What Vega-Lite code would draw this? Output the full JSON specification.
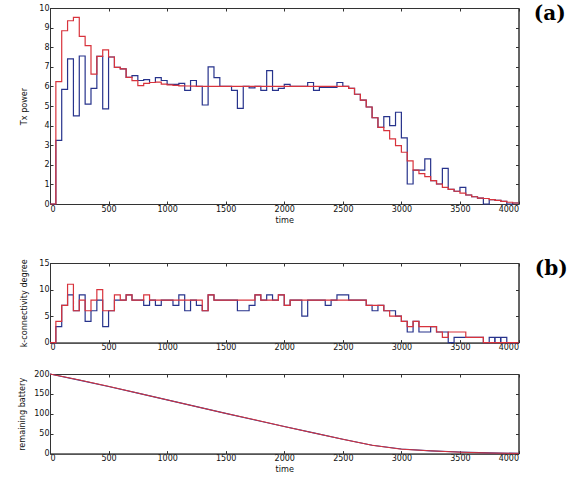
{
"$schema":"https://vega.github.io/schema/vega-lite/v6.json",
"background":"white",
"padding":{"left":17,"top":3,"right":0,"bottom":0},
"bounds":"flush",
"spacing":59,
"config":{
 "view":{"stroke":"#333","strokeWidth":1},
 "axis":{"grid":false,"labelFont":"DejaVu Sans","labelFontSize":8,"labelColor":"#111","titleFont":"'Liberation Sans Narrow', 'DejaVu Sans Condensed', 'Liberation Sans', sans-serif","titleFontSize":9,"titleFontWeight":"normal","titleColor":"#111","domainColor":"#333","tickColor":"#333","tickSize":-3,"labelPadding":4,"titlePadding":4},
 "title":{"font":"DejaVu Serif","fontSize":20,"fontWeight":"bold","color":"#000"},
 "line":{"strokeWidth":1.2}
},
"datasets":{
"tx":[
{"t":0,"v":0,"s":"blue"},{"t":50,"v":3.25,"s":"blue"},{"t":100,"v":5.85,"s":"blue"},{"t":150,"v":7.4,"s":"blue"},{"t":200,"v":4.5,"s":"blue"},{"t":250,"v":7.55,"s":"blue"},{"t":300,"v":5.1,"s":"blue"},{"t":350,"v":5.9,"s":"blue"},{"t":400,"v":7.53,"s":"blue"},{"t":450,"v":4.85,"s":"blue"},{"t":500,"v":7.5,"s":"blue"},{"t":550,"v":6.97,"s":"blue"},{"t":600,"v":6.89,"s":"blue"},{"t":650,"v":6.46,"s":"blue"},{"t":700,"v":6.55,"s":"blue"},{"t":750,"v":6.3,"s":"blue"},{"t":800,"v":6.35,"s":"blue"},{"t":850,"v":6.2,"s":"blue"},{"t":900,"v":6.45,"s":"blue"},{"t":950,"v":6.3,"s":"blue"},{"t":1000,"v":6.1,"s":"blue"},{"t":1050,"v":6.1,"s":"blue"},{"t":1100,"v":6.15,"s":"blue"},{"t":1150,"v":5.8,"s":"blue"},{"t":1200,"v":6.3,"s":"blue"},{"t":1250,"v":6.0,"s":"blue"},{"t":1300,"v":5.05,"s":"blue"},{"t":1350,"v":7.0,"s":"blue"},{"t":1400,"v":6.45,"s":"blue"},{"t":1450,"v":6.0,"s":"blue"},{"t":1500,"v":6.0,"s":"blue"},{"t":1550,"v":5.8,"s":"blue"},{"t":1600,"v":4.88,"s":"blue"},{"t":1650,"v":6.0,"s":"blue"},{"t":1700,"v":5.92,"s":"blue"},{"t":1750,"v":6.0,"s":"blue"},{"t":1800,"v":5.8,"s":"blue"},{"t":1850,"v":6.8,"s":"blue"},{"t":1900,"v":5.8,"s":"blue"},{"t":1950,"v":5.9,"s":"blue"},{"t":2000,"v":6.1,"s":"blue"},{"t":2050,"v":6.0,"s":"blue"},{"t":2100,"v":6.0,"s":"blue"},{"t":2150,"v":6.0,"s":"blue"},{"t":2200,"v":6.2,"s":"blue"},{"t":2250,"v":5.8,"s":"blue"},{"t":2300,"v":5.95,"s":"blue"},{"t":2350,"v":5.95,"s":"blue"},{"t":2400,"v":5.95,"s":"blue"},{"t":2450,"v":6.2,"s":"blue"},{"t":2500,"v":6.0,"s":"blue"},{"t":2550,"v":5.9,"s":"blue"},{"t":2600,"v":5.6,"s":"blue"},{"t":2650,"v":5.3,"s":"blue"},{"t":2700,"v":4.95,"s":"blue"},{"t":2750,"v":4.4,"s":"blue"},{"t":2800,"v":3.91,"s":"blue"},{"t":2850,"v":4.46,"s":"blue"},{"t":2900,"v":4.0,"s":"blue"},{"t":2950,"v":4.68,"s":"blue"},{"t":3000,"v":3.37,"s":"blue"},{"t":3050,"v":1.02,"s":"blue"},{"t":3100,"v":1.73,"s":"blue"},{"t":3150,"v":1.73,"s":"blue"},{"t":3200,"v":2.3,"s":"blue"},{"t":3250,"v":1.19,"s":"blue"},{"t":3300,"v":1.02,"s":"blue"},{"t":3350,"v":1.82,"s":"blue"},{"t":3400,"v":0.75,"s":"blue"},{"t":3450,"v":0.65,"s":"blue"},{"t":3500,"v":0.85,"s":"blue"},{"t":3550,"v":0.46,"s":"blue"},{"t":3600,"v":0.37,"s":"blue"},{"t":3650,"v":0.3,"s":"blue"},{"t":3700,"v":0.0,"s":"blue"},{"t":3750,"v":0.22,"s":"blue"},{"t":3800,"v":0.18,"s":"blue"},{"t":3850,"v":0.13,"s":"blue"},{"t":3900,"v":0.0,"s":"blue"},{"t":3950,"v":0.05,"s":"blue"},{"t":4000,"v":0.05,"s":"blue"},
{"t":0,"v":0,"s":"red"},{"t":50,"v":6.24,"s":"red"},{"t":100,"v":8.84,"s":"red"},{"t":150,"v":9.35,"s":"red"},{"t":200,"v":9.52,"s":"red"},{"t":250,"v":8.55,"s":"red"},{"t":300,"v":8.08,"s":"red"},{"t":350,"v":6.63,"s":"red"},{"t":400,"v":7.53,"s":"red"},{"t":450,"v":7.86,"s":"red"},{"t":500,"v":7.5,"s":"red"},{"t":550,"v":6.97,"s":"red"},{"t":600,"v":6.89,"s":"red"},{"t":650,"v":6.46,"s":"red"},{"t":700,"v":6.29,"s":"red"},{"t":750,"v":6.04,"s":"red"},{"t":800,"v":6.15,"s":"red"},{"t":850,"v":6.2,"s":"red"},{"t":900,"v":6.22,"s":"red"},{"t":950,"v":6.12,"s":"red"},{"t":1000,"v":6.08,"s":"red"},{"t":1050,"v":6.05,"s":"red"},{"t":1100,"v":6.03,"s":"red"},{"t":1150,"v":6.02,"s":"red"},{"t":1200,"v":6.01,"s":"red"},{"t":1250,"v":6.0,"s":"red"},{"t":1300,"v":6.0,"s":"red"},{"t":1350,"v":6.0,"s":"red"},{"t":1400,"v":6.0,"s":"red"},{"t":1450,"v":6.0,"s":"red"},{"t":1500,"v":6.0,"s":"red"},{"t":1550,"v":6.0,"s":"red"},{"t":1600,"v":6.0,"s":"red"},{"t":1650,"v":6.0,"s":"red"},{"t":1700,"v":6.0,"s":"red"},{"t":1750,"v":6.0,"s":"red"},{"t":1800,"v":6.0,"s":"red"},{"t":1850,"v":6.0,"s":"red"},{"t":1900,"v":6.0,"s":"red"},{"t":1950,"v":6.0,"s":"red"},{"t":2000,"v":6.0,"s":"red"},{"t":2050,"v":6.0,"s":"red"},{"t":2100,"v":6.0,"s":"red"},{"t":2150,"v":6.0,"s":"red"},{"t":2200,"v":6.0,"s":"red"},{"t":2250,"v":6.0,"s":"red"},{"t":2300,"v":6.0,"s":"red"},{"t":2350,"v":6.0,"s":"red"},{"t":2400,"v":6.0,"s":"red"},{"t":2450,"v":6.0,"s":"red"},{"t":2500,"v":6.0,"s":"red"},{"t":2550,"v":5.9,"s":"red"},{"t":2600,"v":5.6,"s":"red"},{"t":2650,"v":5.3,"s":"red"},{"t":2700,"v":4.95,"s":"red"},{"t":2750,"v":4.4,"s":"red"},{"t":2800,"v":3.91,"s":"red"},{"t":2850,"v":3.74,"s":"red"},{"t":2900,"v":3.32,"s":"red"},{"t":2950,"v":2.98,"s":"red"},{"t":3000,"v":2.64,"s":"red"},{"t":3050,"v":2.2,"s":"red"},{"t":3100,"v":1.73,"s":"red"},{"t":3150,"v":1.55,"s":"red"},{"t":3200,"v":1.4,"s":"red"},{"t":3250,"v":1.19,"s":"red"},{"t":3300,"v":1.02,"s":"red"},{"t":3350,"v":0.85,"s":"red"},{"t":3400,"v":0.75,"s":"red"},{"t":3450,"v":0.65,"s":"red"},{"t":3500,"v":0.55,"s":"red"},{"t":3550,"v":0.46,"s":"red"},{"t":3600,"v":0.37,"s":"red"},{"t":3650,"v":0.3,"s":"red"},{"t":3700,"v":0.28,"s":"red"},{"t":3750,"v":0.22,"s":"red"},{"t":3800,"v":0.18,"s":"red"},{"t":3850,"v":0.13,"s":"red"},{"t":3900,"v":0.09,"s":"red"},{"t":3950,"v":0.05,"s":"red"},{"t":4000,"v":0.05,"s":"red"}
],
"k":[
{"t":0,"v":0,"s":"blue"},{"t":50,"v":3,"s":"blue"},{"t":100,"v":7,"s":"blue"},{"t":150,"v":9,"s":"blue"},{"t":200,"v":6,"s":"blue"},{"t":250,"v":9,"s":"blue"},{"t":300,"v":4,"s":"blue"},{"t":350,"v":6,"s":"blue"},{"t":400,"v":8,"s":"blue"},{"t":450,"v":3,"s":"blue"},{"t":500,"v":6,"s":"blue"},{"t":550,"v":8,"s":"blue"},{"t":600,"v":8,"s":"blue"},{"t":650,"v":9,"s":"blue"},{"t":700,"v":8,"s":"blue"},{"t":750,"v":8,"s":"blue"},{"t":800,"v":7,"s":"blue"},{"t":850,"v":8,"s":"blue"},{"t":900,"v":7,"s":"blue"},{"t":950,"v":8,"s":"blue"},{"t":1000,"v":8,"s":"blue"},{"t":1050,"v":7,"s":"blue"},{"t":1100,"v":9,"s":"blue"},{"t":1150,"v":6,"s":"blue"},{"t":1200,"v":8,"s":"blue"},{"t":1250,"v":7,"s":"blue"},{"t":1300,"v":6,"s":"blue"},{"t":1350,"v":9,"s":"blue"},{"t":1400,"v":8,"s":"blue"},{"t":1450,"v":8,"s":"blue"},{"t":1500,"v":8,"s":"blue"},{"t":1550,"v":8,"s":"blue"},{"t":1600,"v":6,"s":"blue"},{"t":1650,"v":6,"s":"blue"},{"t":1700,"v":7,"s":"blue"},{"t":1750,"v":9,"s":"blue"},{"t":1800,"v":8,"s":"blue"},{"t":1850,"v":9,"s":"blue"},{"t":1900,"v":8,"s":"blue"},{"t":1950,"v":9,"s":"blue"},{"t":2000,"v":7,"s":"blue"},{"t":2050,"v":8,"s":"blue"},{"t":2100,"v":8,"s":"blue"},{"t":2150,"v":5,"s":"blue"},{"t":2200,"v":8,"s":"blue"},{"t":2250,"v":8,"s":"blue"},{"t":2300,"v":8,"s":"blue"},{"t":2350,"v":7,"s":"blue"},{"t":2400,"v":8,"s":"blue"},{"t":2450,"v":9,"s":"blue"},{"t":2500,"v":9,"s":"blue"},{"t":2550,"v":8,"s":"blue"},{"t":2600,"v":8,"s":"blue"},{"t":2650,"v":8,"s":"blue"},{"t":2700,"v":7,"s":"blue"},{"t":2750,"v":6,"s":"blue"},{"t":2800,"v":7,"s":"blue"},{"t":2850,"v":6,"s":"blue"},{"t":2900,"v":6,"s":"blue"},{"t":2950,"v":5,"s":"blue"},{"t":3000,"v":4,"s":"blue"},{"t":3050,"v":2,"s":"blue"},{"t":3100,"v":4,"s":"blue"},{"t":3150,"v":2,"s":"blue"},{"t":3200,"v":2,"s":"blue"},{"t":3250,"v":3,"s":"blue"},{"t":3300,"v":2,"s":"blue"},{"t":3350,"v":2,"s":"blue"},{"t":3400,"v":0,"s":"blue"},{"t":3450,"v":1,"s":"blue"},{"t":3500,"v":1,"s":"blue"},{"t":3550,"v":1,"s":"blue"},{"t":3600,"v":1,"s":"blue"},{"t":3650,"v":1,"s":"blue"},{"t":3700,"v":0,"s":"blue"},{"t":3750,"v":1,"s":"blue"},{"t":3797,"v":0,"s":"blue"},{"t":3800,"v":1,"s":"blue"},{"t":3847,"v":0,"s":"blue"},{"t":3850,"v":1,"s":"blue"},{"t":3900,"v":0,"s":"blue"},{"t":3950,"v":0,"s":"blue"},{"t":4000,"v":0,"s":"blue"},
{"t":0,"v":0,"s":"red"},{"t":50,"v":4,"s":"red"},{"t":100,"v":7,"s":"red"},{"t":150,"v":11,"s":"red"},{"t":200,"v":6,"s":"red"},{"t":250,"v":8,"s":"red"},{"t":300,"v":6,"s":"red"},{"t":350,"v":8,"s":"red"},{"t":400,"v":10,"s":"red"},{"t":450,"v":6,"s":"red"},{"t":500,"v":6,"s":"red"},{"t":550,"v":9,"s":"red"},{"t":600,"v":8,"s":"red"},{"t":650,"v":9,"s":"red"},{"t":700,"v":8,"s":"red"},{"t":750,"v":8,"s":"red"},{"t":800,"v":9,"s":"red"},{"t":850,"v":8,"s":"red"},{"t":900,"v":8,"s":"red"},{"t":950,"v":8,"s":"red"},{"t":1000,"v":8,"s":"red"},{"t":1050,"v":8,"s":"red"},{"t":1100,"v":8,"s":"red"},{"t":1150,"v":8,"s":"red"},{"t":1200,"v":8,"s":"red"},{"t":1250,"v":8,"s":"red"},{"t":1300,"v":6,"s":"red"},{"t":1350,"v":9,"s":"red"},{"t":1400,"v":8,"s":"red"},{"t":1450,"v":8,"s":"red"},{"t":1500,"v":8,"s":"red"},{"t":1550,"v":8,"s":"red"},{"t":1600,"v":8,"s":"red"},{"t":1650,"v":8,"s":"red"},{"t":1700,"v":8,"s":"red"},{"t":1750,"v":9,"s":"red"},{"t":1800,"v":8,"s":"red"},{"t":1850,"v":8,"s":"red"},{"t":1900,"v":8,"s":"red"},{"t":1950,"v":9,"s":"red"},{"t":2000,"v":7,"s":"red"},{"t":2050,"v":8,"s":"red"},{"t":2100,"v":8,"s":"red"},{"t":2150,"v":8,"s":"red"},{"t":2200,"v":8,"s":"red"},{"t":2250,"v":8,"s":"red"},{"t":2300,"v":8,"s":"red"},{"t":2350,"v":8,"s":"red"},{"t":2400,"v":8,"s":"red"},{"t":2450,"v":8,"s":"red"},{"t":2500,"v":8,"s":"red"},{"t":2550,"v":8,"s":"red"},{"t":2600,"v":8,"s":"red"},{"t":2650,"v":8,"s":"red"},{"t":2700,"v":7,"s":"red"},{"t":2750,"v":7,"s":"red"},{"t":2800,"v":7,"s":"red"},{"t":2850,"v":6,"s":"red"},{"t":2900,"v":5,"s":"red"},{"t":2950,"v":5,"s":"red"},{"t":3000,"v":4,"s":"red"},{"t":3050,"v":3,"s":"red"},{"t":3100,"v":4,"s":"red"},{"t":3150,"v":3,"s":"red"},{"t":3200,"v":3,"s":"red"},{"t":3250,"v":3,"s":"red"},{"t":3300,"v":2,"s":"red"},{"t":3350,"v":1,"s":"red"},{"t":3400,"v":2,"s":"red"},{"t":3450,"v":2,"s":"red"},{"t":3500,"v":2,"s":"red"},{"t":3550,"v":1,"s":"red"},{"t":3600,"v":1,"s":"red"},{"t":3650,"v":1,"s":"red"},{"t":3700,"v":0,"s":"red"},{"t":3750,"v":0,"s":"red"},{"t":3800,"v":0,"s":"red"},{"t":3850,"v":0,"s":"red"},{"t":3900,"v":0,"s":"red"},{"t":3950,"v":0,"s":"red"},{"t":4000,"v":0,"s":"red"}
],
"bat":[
{"t":0,"v":200,"s":"blue"},{"t":250,"v":184.5,"s":"blue"},{"t":500,"v":168.5,"s":"blue"},{"t":750,"v":152,"s":"blue"},{"t":1000,"v":135,"s":"blue"},{"t":1250,"v":118,"s":"blue"},{"t":1500,"v":101,"s":"blue"},{"t":1750,"v":84.5,"s":"blue"},{"t":2000,"v":68,"s":"blue"},{"t":2250,"v":52,"s":"blue"},{"t":2500,"v":36,"s":"blue"},{"t":2750,"v":21,"s":"blue"},{"t":3000,"v":11.5,"s":"blue"},{"t":3250,"v":7,"s":"blue"},{"t":3500,"v":4,"s":"blue"},{"t":3750,"v":2,"s":"blue"},{"t":4000,"v":0.5,"s":"blue"},
{"t":0,"v":200,"s":"red"},{"t":250,"v":185,"s":"red"},{"t":500,"v":169,"s":"red"},{"t":750,"v":152,"s":"red"},{"t":1000,"v":135,"s":"red"},{"t":1250,"v":118,"s":"red"},{"t":1500,"v":101,"s":"red"},{"t":1750,"v":85,"s":"red"},{"t":2000,"v":68,"s":"red"},{"t":2250,"v":52,"s":"red"},{"t":2500,"v":36,"s":"red"},{"t":2750,"v":21,"s":"red"},{"t":3000,"v":11,"s":"red"},{"t":3250,"v":7,"s":"red"},{"t":3500,"v":3.5,"s":"red"},{"t":3750,"v":1.5,"s":"red"},{"t":4000,"v":0.5,"s":"red"}
]
},
"vconcat":[
{
 "width":468.5,"height":196,
 "title":{"text":"(a)","orient":"right","anchor":"start","angle":0,"align":"left","baseline":"top","offset":-19},
 "data":{"name":"tx"},
 "layer":[
  {"transform":[{"filter":{"field":"s","equal":"blue"}}],
   "mark":{"type":"line","interpolate":"step-after","color":"#27338c"},
   "encoding":{
    "x":{"field":"t","type":"quantitative","scale":{"domain":[0,4000],"nice":false},"axis":{"values":[0,500,1000,1500,2000,2500,3000,3500,4000],"format":"d","title":"time","titlePadding":2}},
    "y":{"field":"v","type":"quantitative","scale":{"domain":[0,10],"nice":false},"axis":{"values":[0,1,2,3,4,5,6,7,8,9,10],"title":"Tx power","titlePadding":10}}
   }},
  {"transform":[{"filter":{"field":"s","equal":"red"}}],
   "mark":{"type":"line","interpolate":"step-after","color":"#d8333c"},
   "encoding":{
    "x":{"field":"t","type":"quantitative","axis":{"orient":"top","labels":false,"title":null,"values":[0,500,1000,1500,2000,2500,3000,3500,4000]}},
    "y":{"field":"v","type":"quantitative","axis":{"orient":"right","labels":false,"title":null,"values":[0,1,2,3,4,5,6,7,8,9,10]}}
   }}
 ],
 "resolve":{"axis":{"x":"independent","y":"independent"}}
},
{
 "bounds":"flush",
 "spacing":31,
 "vconcat":[
 {
  "width":468.5,"height":79.6,
  "title":{"text":"(b)","orient":"right","anchor":"start","angle":0,"align":"left","baseline":"top","offset":-19},
  "data":{"name":"k"},
  "layer":[
   {"transform":[{"filter":{"field":"s","equal":"blue"}}],
    "mark":{"type":"line","interpolate":"step-after","color":"#27338c"},
    "encoding":{
     "x":{"field":"t","type":"quantitative","scale":{"domain":[0,4000],"nice":false},"axis":{"values":[0,500,1000,1500,2000,2500,3000,3500,4000],"format":"d","title":null}},
     "y":{"field":"v","type":"quantitative","scale":{"domain":[0,15],"nice":false},"axis":{"values":[0,5,10,15],"title":"k-connectivity degree","titlePadding":10}}
    }},
   {"transform":[{"filter":{"field":"s","equal":"red"}}],
    "mark":{"type":"line","interpolate":"step-after","color":"#d8333c"},
    "encoding":{
     "x":{"field":"t","type":"quantitative","axis":{"orient":"top","labels":false,"title":null,"values":[0,500,1000,1500,2000,2500,3000,3500,4000]}},
     "y":{"field":"v","type":"quantitative","axis":{"orient":"right","labels":false,"title":null,"values":[0,5,10,15]}}
    }}
  ],
  "resolve":{"axis":{"x":"independent","y":"independent"}}
 },
 {
  "width":468.5,"height":79.6,
  "data":{"name":"bat"},
  "layer":[
   {"transform":[{"filter":{"field":"s","equal":"blue"}}],
    "mark":{"type":"line","color":"#27338c"},
    "encoding":{
     "x":{"field":"t","type":"quantitative","scale":{"domain":[0,4000],"nice":false},"axis":{"values":[0,500,1000,1500,2000,2500,3000,3500,4000],"format":"d","title":"time","titlePadding":2}},
     "y":{"field":"v","type":"quantitative","scale":{"domain":[0,200],"nice":false},"axis":{"values":[0,50,100,150,200],"title":"remaining battery","titlePadding":7}}
    }},
   {"transform":[{"filter":{"field":"s","equal":"red"}}],
    "mark":{"type":"line","color":"#d8333c","strokeWidth":1},
    "encoding":{
     "x":{"field":"t","type":"quantitative","axis":{"orient":"top","labels":false,"title":null,"values":[0,500,1000,1500,2000,2500,3000,3500,4000]}},
     "y":{"field":"v","type":"quantitative","axis":{"orient":"right","labels":false,"title":null,"values":[0,50,100,150,200]}}
    }}
  ],
  "resolve":{"axis":{"x":"independent","y":"independent"}}
 }
 ]
}
]
}
